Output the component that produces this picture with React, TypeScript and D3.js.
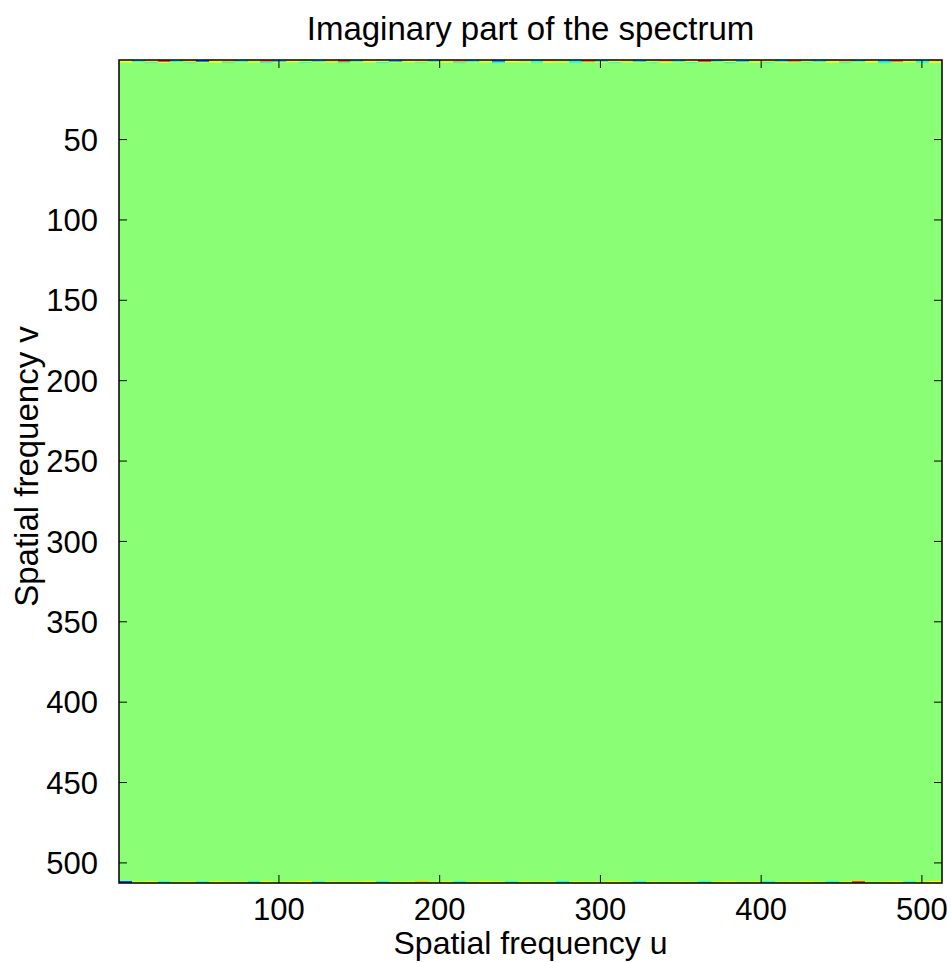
import React from "react";
import * as d3 from "d3";

const title = "Imaginary part of the spectrum";
const xLabel = "Spatial frequency u";
const yLabel = "Spatial frequency v";
const xTicks = [100, 200, 300, 400, 500];
const yTicks = [50, 100, 150, 200, 250, 300, 350, 400, 450, 500];
const nSize = 512;
const backgroundValue = 0.02;
// edge artefacts, one value per block of 8 columns (64 blocks)
const topRow1 = [0.25, -0.2, 0.3, 0.6, -0.25, 0.3, -0.5, 0.2, 0.35, -0.2, 0.15, 0.45, -0.3, 0.2, 0.1, -0.25, 0.3, 0.55, -0.15, 0.25, 0.2, -0.35, 0.2, 0.3, -0.2, 0.15, 0.4, -0.25, 0.2, -0.45, 0.25, 0.15, -0.2, 0.3, 0.15, -0.25, 0.5, -0.15, 0.2, 0.3, -0.3, 0.15, 0.35, -0.2, 0.25, 0.6, -0.15, 0.2, -0.3, 0.15, 0.3, -0.2, 0.45, 0.15, -0.25, 0.2, 0.35, -0.15, 0.25, -0.3, 0.5, 0.2, -0.2, 0.3];
const topRow2 = [0.15, 0.1, -0.15, 0.2, 0.1, -0.1, 0.15, 0.2, -0.15, 0.1, 0.15, -0.2, 0.15, 0.1, -0.15, 0.2, 0.1, -0.15, 0.15, 0.1, -0.2, 0.15, 0.1, -0.1, 0.2, 0.15, -0.15, 0.1, 0.15, -0.2, 0.1, 0.15, -0.1, 0.2, 0.15, -0.15, 0.1, 0.2, -0.15, 0.1, 0.15, -0.1, 0.2, 0.15, -0.15, 0.1, 0.15, -0.2, 0.1, 0.15, -0.15, 0.2, 0.1, -0.1, 0.15, 0.2, -0.15, 0.1, 0.15, -0.2, 0.1, 0.15, -0.15, 0.2];
const bottomRow = [-0.6, 0.15, 0.2, -0.15, 0.1, 0.15, -0.1, 0.2, 0.15, 0.1, -0.15, 0.2, 0.1, 0.15, 0.25, -0.1, 0.15, 0.1, 0.15, 0.2, -0.15, 0.1, 0.15, 0.35, 0.1, 0.15, -0.15, 0.1, 0.2, 0.15, -0.1, 0.15, 0.1, 0.15, -0.2, 0.15, 0.1, 0.15, 0.2, 0.1, -0.15, 0.15, 0.1, 0.15, 0.1, -0.15, 0.15, 0.2, 0.1, 0.15, -0.15, 0.1, 0.15, 0.2, 0.1, -0.15, 0.15, 0.6, 0.1, 0.15, 0.2, -0.1, 0.15, 0.25];

const jet = (t: number) => {
  const c = (v: number) => Math.max(0, Math.min(1, v));
  const r = c(1.5 - Math.abs(4 * t - 3));
  const g = c(1.5 - Math.abs(4 * t - 2));
  const b = c(1.5 - Math.abs(4 * t - 1));
  return d3.rgb(r * 255, g * 255, b * 255).toString();
};

export default function App() {
  const W = 951, H = 963;
  const left = 119, top = 60, size = 823;
  const x = d3.scaleLinear().domain([0.5, nSize + 0.5]).range([left, left + size]);
  const y = d3.scaleLinear().domain([0.5, nSize + 0.5]).range([top, top + size]);
  const color = d3.scaleSequential((t: number) => jet(t)).domain([-1, 1]);
  const block = nSize / topRow1.length;
  const font = "'Liberation Sans', Arial, sans-serif";
  const fs = 31;
  const fsLabel = 32;
  const tickLen = 8;

  const edgeRect = (vals: number[], row: number, key: string) =>
    vals.map((v, i) => (
      <rect
        key={key + i}
        x={x(i * block + 0.5)}
        y={y(row - 0.5)}
        width={x(block + 0.5) - x(0.5)}
        height={y(row + 0.5) - y(row - 0.5)}
        fill={color(v)}
      />
    ));

  return (
    <svg width={W} height={H} style={{ position: "absolute", left: 0, top: 0, background: "#fff" }} fontFamily={font}>
      <g shapeRendering="crispEdges">
        <rect x={x(0.5)} y={y(0.5)} width={size} height={size} fill={color(backgroundValue)} />
        {edgeRect(topRow1, 1, "t1")}
        {edgeRect(topRow2, 2, "t2")}
        {edgeRect(bottomRow, nSize, "b")}
      </g>
      <rect x={left} y={top} width={size} height={size} fill="none" stroke="#000" strokeWidth={1.5} />
      {xTicks.map((t) => (
        <g key={"x" + t}>
          <line x1={x(t)} x2={x(t)} y1={top + size} y2={top + size - tickLen} stroke="#000" />
          <line x1={x(t)} x2={x(t)} y1={top} y2={top + tickLen} stroke="#000" />
          <text x={x(t)} y={top + size + 37} fontSize={fs} textAnchor="middle">{t}</text>
        </g>
      ))}
      {yTicks.map((t) => (
        <g key={"y" + t}>
          <line x1={left} x2={left + tickLen} y1={y(t)} y2={y(t)} stroke="#000" />
          <line x1={left + size} x2={left + size - tickLen} y1={y(t)} y2={y(t)} stroke="#000" />
          <text x={left - 21} y={y(t)} dy="0.36em" fontSize={fs} textAnchor="end">{t}</text>
        </g>
      ))}
      <text x={left + size / 2} y={40} fontSize={33} textAnchor="middle">{title}</text>
      <text x={left + size / 2} y={954} fontSize={fsLabel} textAnchor="middle">{xLabel}</text>
      <text transform={`translate(38,${top + size / 2 - 5}) rotate(-90)`} fontSize={33} textAnchor="middle">{yLabel}</text>
    </svg>
  );
}
